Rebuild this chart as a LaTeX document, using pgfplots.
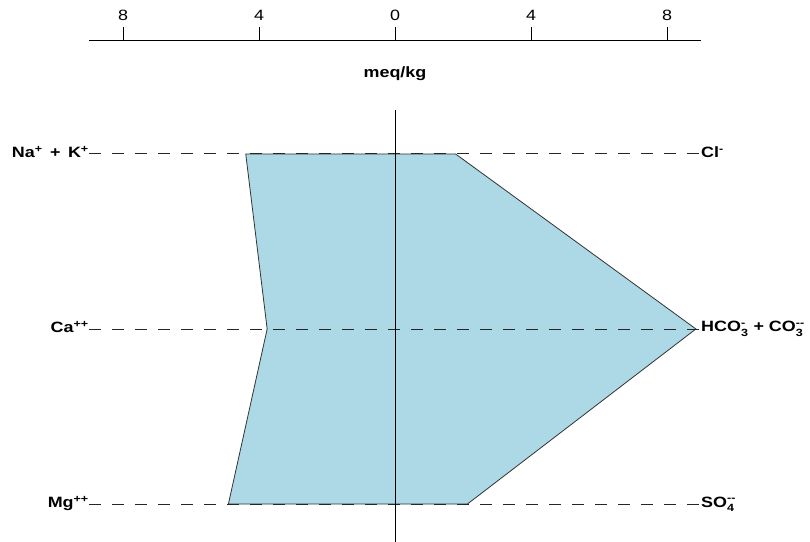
\documentclass[border=0pt]{standalone}
\usepackage{pgfplots}
\pgfplotsset{compat=1.18}
\usepackage{amsmath}
\usepackage{fontspec}
\setmainfont[FakeStretch=1.2]{Liberation Sans}
\definecolor{stifffill}{HTML}{ADD8E6}
\newcommand\lbl{\fontsize{15}{18}\selectfont\bfseries}
\newcommand\ion[3]{#1$^{\text{#3}}_{\text{#2}}$}
\begin{document}
\fontsize{15}{18}\selectfont
\begin{tikzpicture}
% scale bar at the top (meq/kg, absolute values on both sides)
\begin{axis}[at={(89bp,502bp)}, anchor=north west, scale only axis,
  width=612bp, height=10bp, xmin=-9, xmax=9, ymin=0, ymax=1,
  axis x line*=top, hide y axis,
  xtick={-8,-4,0,4,8}, xticklabels={8,4,0,4,8},
  xtick align=outside, major tick length=13bp,
  tick style={black, line width=0.9bp},
  axis line style={black, line width=0.9bp},
  xticklabel style={font=\fontsize{15}{18}\selectfont, yshift=1bp}]
\addplot[draw=none] coordinates {(0,0.5)};
\end{axis}
% Stiff diagram: cations left, anions right
\begin{axis}[at={(89bp,0bp)}, anchor=south west, scale only axis,
  width=612bp, height=432bp, xmin=-9, xmax=9, ymin=0.783, ymax=3.251,
  hide axis, clip=false]
\addplot[fill=stifffill, draw=black!80, line width=0.8bp] coordinates {
  (-4.39,3) (1.78,3) (8.85,2) (2.13,1) (-4.90,1) (-3.76,2)} -- cycle;
\addplot[black!85, line width=0.9bp, dash pattern=on 12bp off 11bp] coordinates {(-9,3) (9,3)};
\addplot[black!85, line width=0.9bp, dash pattern=on 12bp off 11bp] coordinates {(-9,2) (9,2)};
\addplot[black!85, line width=0.9bp, dash pattern=on 12bp off 11bp] coordinates {(-9,1) (9,1)};
\addplot[black, line width=0.9bp] coordinates {(0,0.783) (0,3.251)};
\node[font=\lbl] at (axis cs:0,3.457) {meq/kg};
\node[font=\lbl, anchor=east, inner sep=0pt] at (axis cs:-9,3) {\ion{Na}{}{+}\ \,+\ \,\ion{K}{}{+}};
\node[font=\lbl, anchor=east, inner sep=0pt] at (axis cs:-9,2) {\ion{Ca}{}{++}};
\node[font=\lbl, anchor=east, inner sep=0pt] at (axis cs:-9,1) {\ion{Mg}{}{++}};
\node[font=\lbl, anchor=west, inner sep=0pt] at (axis cs:9,3) {\ion{Cl}{}{-}};
\node[font=\lbl, anchor=west, inner sep=0pt] at (axis cs:9,2) {\ion{HCO}{3}{-} + \ion{CO}{3}{-{}-}};
\node[font=\lbl, anchor=west, inner sep=0pt] at (axis cs:9,1) {\ion{SO}{4}{-{}-}};
\end{axis}
\pgfresetboundingbox
\useasboundingbox (0,0) rectangle (810bp,542bp);
\end{tikzpicture}
\end{document}
